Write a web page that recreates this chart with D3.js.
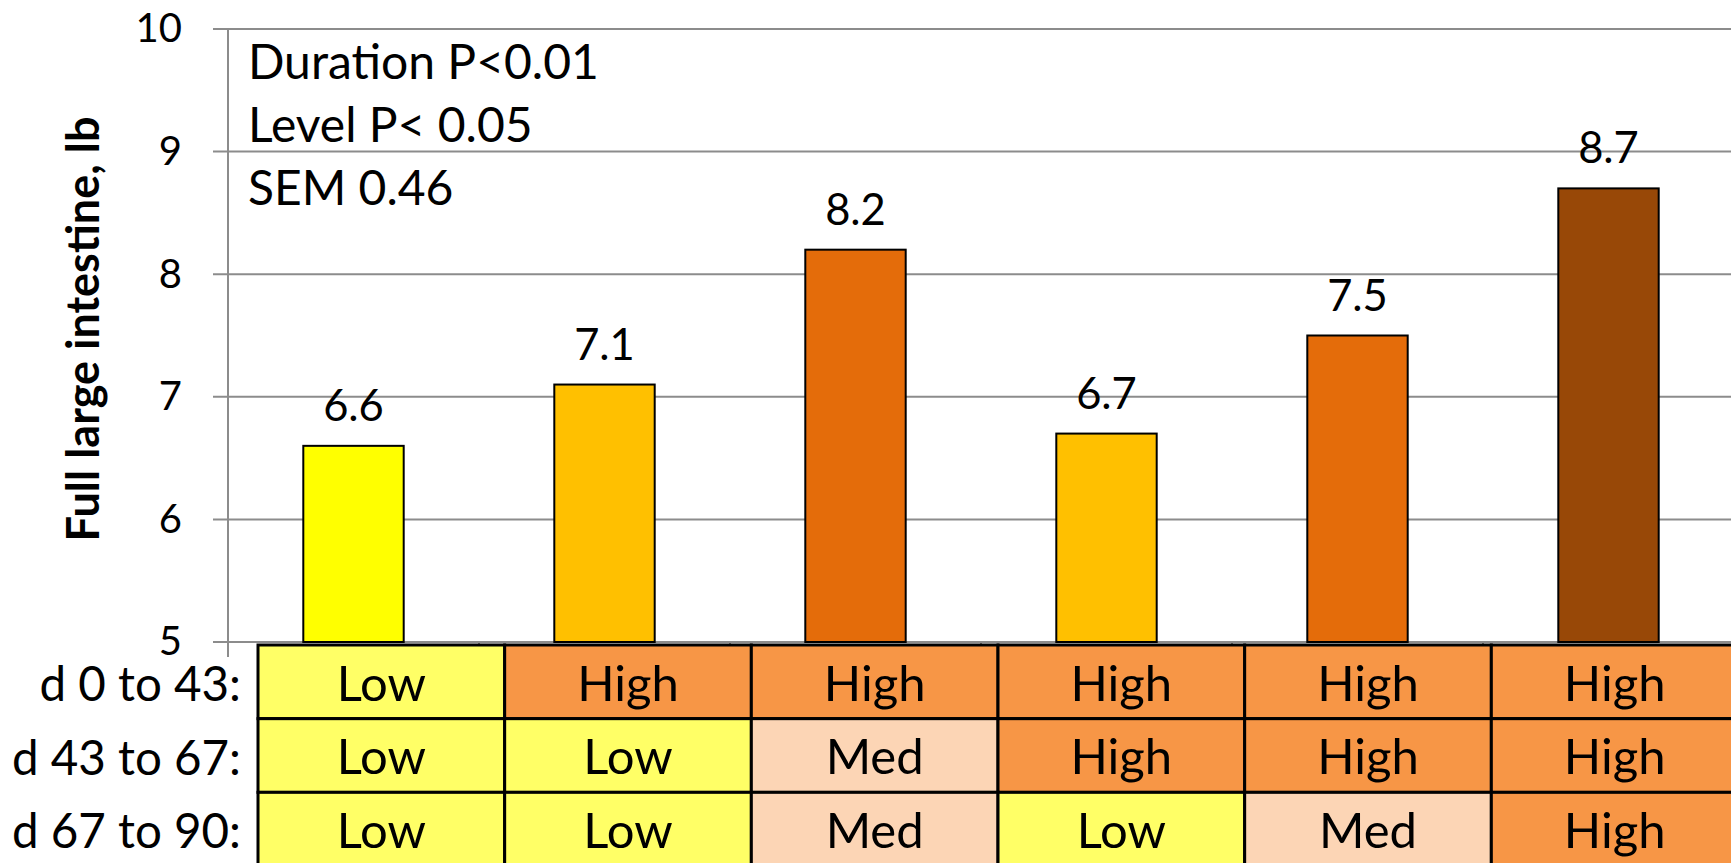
<!DOCTYPE html>
<html>
<head>
<meta charset="utf-8">
<script src="https://cdn.jsdelivr.net/npm/d3@7/dist/d3.min.js"></script>
<style>
  html, body { margin: 0; padding: 0; background: #ffffff; }
  svg { display: block; }
  text { font-family: Lato, "Open Sans", sans-serif; fill: #000; }
</style>
</head>
<body>
<svg id="chart" width="1731" height="863"></svg>
<script>
// Treatment groups (feeding level in each period: L = Low, M = Med, H = High)
const categories = ["LLL", "HLL", "HMM", "HHL", "HHM", "HHH"];
// Full large intestine weight, lb
const values = [6.6, 7.1, 8.2, 6.7, 7.5, 8.7];
const yTicks = [5, 6, 7, 8, 9, 10];

// Feeding periods and the level fed in each one
const periods = ["d 0 to 43:", "d 43 to 67:", "d 67 to 90:"];
const levelD0to43 = ["Low", "High", "High", "High", "High", "High"];
const levelD43to67 = ["Low", "Low", "Med", "High", "High", "High"];
const levelD67to90 = ["Low", "Low", "Med", "Low", "Med", "High"];

// Statistics shown in the corner of the plot
const notes = ["Duration P<0.01", "Level P< 0.05", "SEM 0.46"];
const yTitle = "Full large intestine, lb";

// Styles
const barColors = ["#FFFF00", "#FFC000", "#E46C0A", "#FFC000", "#E46C0A", "#984807"];
const levelColors = { Low: "#FFFF66", Med: "#FCD5B5", High: "#F79646" };
const gridColor = "#8c8c8c";

const svg = d3.select("#chart");
const W = 1731;

const x = d3.scaleBand()
  .domain(categories)
  .range([228, 1734])
  .paddingInner(0.6)
  .paddingOuter(0.3);

const y = d3.scaleLinear().domain([5, 10]).range([642, 29]);

// Horizontal gridlines (including the baseline at 5)
svg.append("g")
  .selectAll("line")
  .data(yTicks)
  .join("line")
  .attr("x1", 213)
  .attr("x2", W)
  .attr("y1", d => y(d))
  .attr("y2", d => y(d))
  .attr("stroke", gridColor)
  .attr("stroke-width", 2);

// Category boundary tick marks under the baseline
const boundaries = d3.range(categories.length + 1).map(i => x.range()[0] + i * x.step());
svg.append("g")
  .selectAll("line")
  .data(boundaries)
  .join("line")
  .attr("x1", d => d)
  .attr("x2", d => d)
  .attr("y1", y(5))
  .attr("y2", y(5) + 15)
  .attr("stroke", gridColor)
  .attr("stroke-width", 2);

// Value axis
const yAxis = svg.append("g")
  .attr("transform", "translate(228,0)")
  .call(d3.axisLeft(y).tickValues(yTicks).tickSize(0).tickPadding(46).tickFormat(d3.format("d")));
yAxis.select(".domain").remove();
yAxis.selectAll("text")
  .attr("font-family", "Lato, sans-serif")
  .attr("font-size", 40)
  .attr("fill", "#000");

svg.append("line")
  .attr("x1", 228).attr("x2", 228)
  .attr("y1", y(10)).attr("y2", y(5) + 15)
  .attr("stroke", gridColor)
  .attr("stroke-width", 2);

// Axis title
svg.append("text")
  .attr("transform", `translate(99,${(118 + 540) / 2}) rotate(-90)`)
  .attr("text-anchor", "middle")
  .attr("font-size", 45)
  .attr("font-weight", "bold")
  .text(yTitle);

// Bars
svg.append("g")
  .selectAll("rect")
  .data(values)
  .join("rect")
  .attr("x", (d, i) => x(categories[i]))
  .attr("width", x.bandwidth())
  .attr("y", d => y(d))
  .attr("height", d => y(5) - y(d))
  .attr("fill", (d, i) => barColors[i])
  .attr("stroke", "#000")
  .attr("stroke-width", 2);

// Value labels
svg.append("g")
  .selectAll("text")
  .data(values)
  .join("text")
  .attr("x", (d, i) => x(categories[i]) + x.bandwidth() / 2)
  .attr("y", d => y(d) - 25)
  .attr("text-anchor", "middle")
  .attr("font-size", 43.5)
  .text(d => d3.format(".1f")(d));

// Statistics note
svg.append("g")
  .selectAll("text")
  .data(notes)
  .join("text")
  .attr("x", 248)
  .attr("y", (d, i) => 79 + i * 63)
  .attr("font-size", 48)
  .text(d => d);

// Feeding-level table under the bars
const levelRows = [levelD0to43, levelD43to67, levelD67to90];
const tx = d3.scaleBand().domain(categories).range([258, 1738]);
const ty = d3.scaleBand().domain(periods).range([645, 866]);

const rows = svg.append("g")
  .selectAll("g")
  .data(levelRows)
  .join("g")
  .attr("transform", (d, i) => `translate(0,${ty(periods[i])})`);

rows.selectAll("rect")
  .data(d => d)
  .join("rect")
  .attr("x", (d, i) => tx(categories[i]))
  .attr("y", 0)
  .attr("width", tx.bandwidth())
  .attr("height", ty.bandwidth())
  .attr("fill", d => levelColors[d])
  .attr("stroke", "#000")
  .attr("stroke-width", 3);

rows.selectAll("text")
  .data(d => d)
  .join("text")
  .attr("x", (d, i) => tx(categories[i]) + tx.bandwidth() / 2)
  .attr("y", ty.bandwidth() / 2 + 19)
  .attr("text-anchor", "middle")
  .attr("font-size", 49)
  .text(d => d);

// Period labels
svg.append("g")
  .selectAll("text")
  .data(periods)
  .join("text")
  .attr("x", 241)
  .attr("y", d => ty(d) + ty.bandwidth() / 2 + 19)
  .attr("text-anchor", "end")
  .attr("font-size", 47.5)
  .text(d => d);
</script>
</body>
</html>
